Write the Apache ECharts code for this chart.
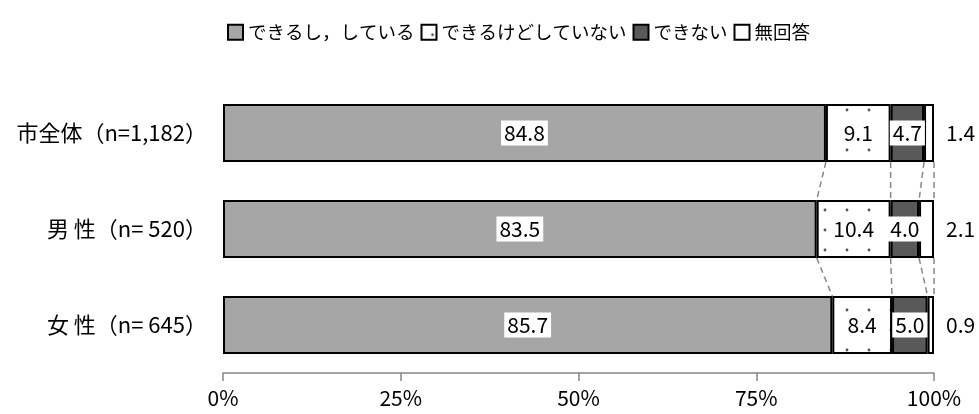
<!DOCTYPE html>
<html>
<head>
<meta charset="utf-8">
<script src="https://cdn.jsdelivr.net/npm/echarts@6/dist/echarts.min.js"></script>
<style>html,body{margin:0;padding:0;background:#fff;}#c{width:979px;height:414px;}</style>
</head>
<body>
<div id="c"></div>
<script>
const categories = ['市全体（n=1,182）', '男 性（n= 520）', '女 性（n= 645）'];
const seriesNames = ['できるし，している', 'できるけどしていない', 'できない', '無回答'];
const doing = [84.8, 83.5, 85.7];
const canButNot = [9.1, 10.4, 8.4];
const cannot = [4.7, 4.0, 5.0];
const noAnswer = [1.4, 2.1, 0.9];
const tickLabels = ['0%', '25%', '50%', '75%', '100%'];

const FONT = '"Noto Sans CJK JP", "Noto Sans", sans-serif';

// dotted pattern
const pc = document.createElement('canvas');
pc.width = 22; pc.height = 20;
const pctx = pc.getContext('2d');
pctx.fillStyle = '#ffffff';
pctx.fillRect(0, 0, 22, 20);
pctx.fillStyle = '#555555';
pctx.beginPath(); pctx.arc(11, 10, 1.4, 0, Math.PI * 2); pctx.fill();

const values = [doing, canButNot, cannot, noAnswer];
// connector data: [boundary value, from category index, boundary value, to category index]
const connectors = [];
for (let i = 0; i < categories.length - 1; i++) {
  let a = 0, b = 0;
  for (let s = 0; s < values.length; s++) {
    a += values[s][i]; b += values[s][i + 1];
    connectors.push([Math.round(a * 10) / 10, i, Math.round(b * 10) / 10, i + 1]);
  }
}
const BAR_W = 58;

const chart = echarts.init(document.getElementById('c'));
const inLabel = {
  show: true, position: 'inside', color: '#000', fontSize: 21, fontFamily: FONT,
  backgroundColor: '#fff', padding: [3, 3, 1, 3], formatter: p => p.value.toFixed(1)
};
const border = { borderColor: '#000', borderWidth: 2 };
chart.setOption({
  animation: false,
  textStyle: { fontFamily: FONT },
  legend: {
    data: seriesNames, left: 222, top: 18, itemWidth: 15, itemHeight: 15, itemGap: 6,
    icon: 'rect',
    textStyle: { fontSize: 18.5, color: '#000', fontFamily: FONT }
  },
  grid: { left: 223, right: 45, top: 85, bottom: 41, containLabel: false },
  xAxis: {
    type: 'value', min: 0, max: 100, interval: 25,
    axisLine: { show: true, lineStyle: { color: '#888', width: 1.5 } },
    axisTick: { show: true, length: 8, lineStyle: { color: '#888', width: 1.5 } },
    splitLine: { show: false },
    axisLabel: { fontSize: 21, color: '#000', margin: 15, fontFamily: FONT,
      formatter: v => tickLabels[Math.round(v / 25)] }
  },
  yAxis: {
    type: 'category', data: categories, inverse: true,
    axisLine: { show: false }, axisTick: { show: false },
    axisLabel: { fontSize: 22, color: '#000', margin: 16, fontFamily: FONT }
  },
  series: [
    { name: seriesNames[0], type: 'bar', stack: 't', barWidth: BAR_W, data: doing,
      itemStyle: Object.assign({ color: '#a6a6a6' }, border), label: inLabel },
    { name: seriesNames[1], type: 'bar', stack: 't', barWidth: BAR_W, data: canButNot,
      itemStyle: Object.assign({ color: { image: pc, repeat: 'repeat' } }, border), label: inLabel },
    { name: seriesNames[2], type: 'bar', stack: 't', barWidth: BAR_W, data: cannot,
      itemStyle: Object.assign({ color: '#595959' }, border), label: inLabel },
    { name: seriesNames[3], type: 'bar', stack: 't', barWidth: BAR_W, data: noAnswer,
      itemStyle: Object.assign({ color: '#ffffff' }, border),
      label: { show: true, position: 'right', distance: 12, color: '#000', fontSize: 21,
        fontFamily: FONT, formatter: p => p.value.toFixed(1) } },
    { type: 'custom', name: 'conn', data: connectors, z: 1, silent: true,
      renderItem: function (params, api) {
        const p1 = api.coord([api.value(0), api.value(1)]);
        const p2 = api.coord([api.value(2), api.value(3)]);
        return {
          type: 'line',
          shape: { x1: p1[0], y1: p1[1] + BAR_W / 2, x2: p2[0], y2: p2[1] - BAR_W / 2 },
          style: { stroke: '#888', lineWidth: 1.5, lineDash: [6, 4] }
        };
      }
    }
  ]
});
</script>
</body>
</html>
